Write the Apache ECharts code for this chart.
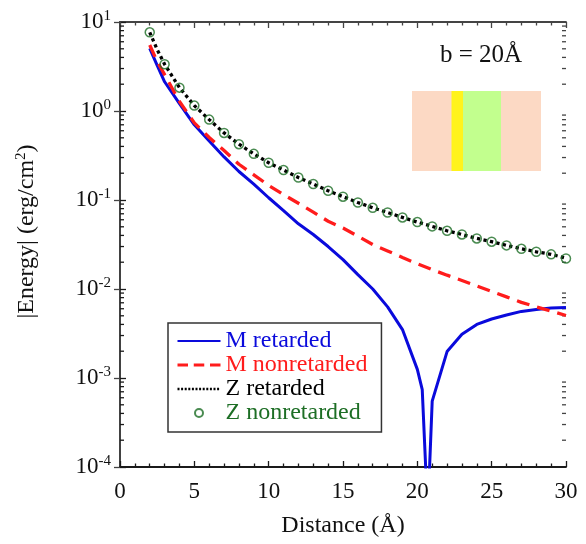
<!DOCTYPE html>
<html>
<head>
<meta charset="utf-8">
<script src="https://cdn.jsdelivr.net/npm/echarts@6/dist/echarts.min.js"></script>
<style>
html,body{margin:0;padding:0;background:#fff;}
#chart{width:586px;height:544px;}
</style>
</head>
<body>
<div id="chart"></div>
<script>
// ---- data ----
var zX = [2,3,4,5,6,7,8,9,10,11,12,13,14,15,16,17,18,19,20,21,22,23,24,25,26,27,28,29,30];
var zNonretarded = [7.66,3.35,1.83,1.15,0.80,0.567,0.424,0.33,0.262,0.217,0.179,0.151,0.127,0.109,0.0937,0.0817,0.0724,0.0637,0.0565,0.0505,0.0451,0.041,0.037,0.034,0.0309,0.0283,0.0262,0.0245,0.022];
var zRetX = [2,2.5,3,4,5,6,7,8,9,10,11,12,13,14,15,16,17,18,19,20,21,22,23,24,25,26,27,28,29,30];
var zRetarded = [7.66,4.9,3.35,1.83,1.15,0.80,0.567,0.424,0.33,0.262,0.217,0.179,0.151,0.127,0.109,0.0937,0.0817,0.0724,0.0637,0.0565,0.0505,0.0451,0.041,0.037,0.034,0.0309,0.0283,0.0262,0.0245,0.0222];
var mNonX = [2,2.5,3,4,5,6,7,8,9,10,11,12,13,14,15,16,17,18,19,20,21,22,23,24,25,26,27,28,29,30];
var mNonretarded = [5.52,3.6,2.56,1.28,0.736,0.504,0.36,0.252,0.192,0.146,0.115,0.092,0.0731,0.0577,0.0484,0.0393,0.0316,0.0268,0.0226,0.0192,0.0165,0.0143,0.01245,0.0108,0.00937,0.00815,0.00708,0.0063,0.00564,0.00504];
var mRetX = [2,2.5,3,4,5,6,7,8,9,10,11,12,13,14,15,16,17,18,19,20,20.33,20.7,21,22,23,24,25,26,27,28,29,30];
var mRetarded = [5.06,3.25,2.13,1.21,0.70,0.461,0.305,0.209,0.151,0.106,0.076,0.054,0.041,0.030,0.0214,0.0145,0.0100,0.0063,0.0035,0.00125,0.00074,0.00003,0.00055,0.00198,0.0031,0.0040,0.0046,0.0051,0.0056,0.0059,0.0061,0.0062];
var xTicks = [0,5,10,15,20,25,30];
var decades = [-4,-3,-2,-1,0];
var minorMult = [2,3,4,5,6,7,8,9];

var FONT = '"Liberation Serif","DejaVu Serif",serif';
function pairs(xs, ys){ return xs.map(function(x,i){ return [x, ys[i]]; }); }

// minor log tick values
var minorVals = [];
decades.forEach(function(d){ minorMult.forEach(function(m){ minorVals.push([0, m*Math.pow(10,d)]); }); });

var chart = echarts.init(document.getElementById('chart'), null, {renderer:'canvas'});

var axisLineDark = {show:true, lineStyle:{color:'#1a1a1a', width:1.8}};
var axisLineGray = {show:true, lineStyle:{color:'#444', width:1.8}};
var noSymbol = {color:'rgba(0,0,0,0)', borderWidth:0, borderColor:'rgba(0,0,0,0)'};

var option = {
  animation:false,
  backgroundColor:'#fff',
  grid:{left:120, right:20, top:22, bottom:77},
  xAxis:[{
    type:'value', min:0, max:30, interval:5, position:'bottom',
    axisLine:axisLineDark,
    axisTick:{show:true, inside:true, length:6, lineStyle:{color:'#1a1a1a', width:1.3}},
    minorTick:{show:true, splitNumber:5, length:3.5, lineStyle:{color:'#1a1a1a', width:1.3}},
    splitLine:{show:false},
    axisLabel:{show:true, margin:13, fontSize:23, color:'#111', fontFamily:FONT},
    name:'Distance (\u00C5)', nameLocation:'middle', nameGap:47,
    nameTextStyle:{fontSize:24, color:'#111', fontFamily:FONT}
  },{
    type:'value', min:0, max:30, interval:5, position:'top',
    axisLine:axisLineGray,
    axisTick:{show:true, inside:true, length:6, lineStyle:{color:'#444', width:1.3}},
    minorTick:{show:true, splitNumber:5, length:3.5, lineStyle:{color:'#444', width:1.3}},
    splitLine:{show:false}, axisLabel:{show:false}
  }],
  yAxis:[{
    type:'log', logBase:10, min:0.0001, max:10, splitNumber:5, position:'left',
    axisLine:axisLineDark,
    axisTick:{show:true, inside:true, length:6, lineStyle:{color:'#1a1a1a', width:1.3}},
    splitLine:{show:false},
    axisLabel:{
      show:true, margin:9, fontFamily:FONT, color:'#111',
      formatter:function(v){ var e = Math.round(Math.log10(v)); return '{b|10}{s|' + e + '}'; },
      rich:{
        b:{fontSize:23, fontFamily:FONT, color:'#111', lineHeight:26},
        s:{fontSize:15, fontFamily:FONT, color:'#111', verticalAlign:'top', lineHeight:26}
      }
    },
    name:'|Energy| (erg/cm{s|2})', nameLocation:'middle', nameGap:80, nameRotate:90,
    nameTextStyle:{fontSize:24, color:'#111', fontFamily:FONT, padding:[0,0,0,26],
      rich:{s:{fontSize:15, fontFamily:FONT, color:'#111', verticalAlign:'top', lineHeight:26}}}
  },{
    type:'log', logBase:10, min:0.0001, max:10, splitNumber:5, position:'right',
    axisLine:axisLineGray,
    axisTick:{show:true, inside:true, length:6, lineStyle:{color:'#444', width:1.3}},
    splitLine:{show:false}, axisLabel:{show:false}
  }],
  legend:{
    orient:'vertical', left:168, top:323,
    width:200,
    backgroundColor:'#fff',
    borderColor:'#333', borderWidth:1.5,
    padding:[6,14,7,8],
    itemWidth:43, itemHeight:8, itemGap:0,
    textStyle:{fontSize:24, fontFamily:FONT, lineHeight:23},
    data:[
      {name:'M retarded', textStyle:{color:'#0a0adc'}, itemStyle:noSymbol},
      {name:'M nonretarded', textStyle:{color:'#ff1c1c'}, itemStyle:noSymbol, lineStyle:{type:[10.5,5.75], width:3}},
      {name:'Z retarded', textStyle:{color:'#000'}, itemStyle:noSymbol, lineStyle:{type:[2,1.6], width:2.5}},
      {name:'Z nonretarded', textStyle:{color:'#1d6e25'}}
    ]
  },
  graphic:[
    {type:'rect', shape:{x:412, y:91, width:129, height:80}, style:{fill:'#fcd9c4'}, z:1},
    {type:'rect', shape:{x:451.5, y:91, width:11.5, height:80}, style:{fill:'#fff31c'}, z:2},
    {type:'rect', shape:{x:463, y:91, width:38, height:80}, style:{fill:'#c2ff8e'}, z:2},
    {type:'text', left:440, top:43, style:{text:'b = 20\u00C5', fontSize:25, fontFamily:FONT, fill:'#111'}, z:3}
  ],
  series:[
    {
      name:'minorTicksLeft', type:'custom', xAxisIndex:0, yAxisIndex:0, silent:true,
      data:minorVals, legendHoverLink:false,
      renderItem:function(params, api){
        var pL = api.coord([0, api.value(1)]);
        var pR = api.coord([30, api.value(1)]);
        return {type:'group', children:[
          {type:'line', shape:{x1:pL[0], y1:pL[1], x2:pL[0]+4, y2:pL[1]}, style:{stroke:'#1a1a1a', lineWidth:1.3}},
          {type:'line', shape:{x1:pR[0], y1:pR[1], x2:pR[0]-4, y2:pR[1]}, style:{stroke:'#444', lineWidth:1.3}}
        ]};
      },
      z:1
    },
    {
      name:'M retarded', type:'line', data:pairs(mRetX, mRetarded),
      showSymbol:false, symbol:'none', clip:true,
      lineStyle:{color:'#0a0adc', width:3},
      itemStyle:{color:'#0a0adc'}, z:3
    },
    {
      name:'M nonretarded', type:'line', data:pairs(mNonX, mNonretarded),
      showSymbol:false, symbol:'none', clip:true,
      lineStyle:{color:'#ff1c1c', width:3.3, type:[13,8]},
      itemStyle:{color:'#ff1c1c'}, z:4
    },
    {
      name:'Z retarded', type:'line', data:pairs(zRetX, zRetarded),
      showSymbol:false, symbol:'none', clip:true,
      lineStyle:{color:'#000', width:3.3, type:[3.3,3.3]},
      itemStyle:{color:'#000'}, z:5
    },
    {
      name:'Z nonretarded', type:'scatter', data:pairs(zX, zNonretarded),
      symbol:'circle', symbolSize:9,
      itemStyle:{color:'rgba(0,0,0,0)', borderColor:'#1d6e25', borderWidth:1.5}, z:6
    }
  ]
};
chart.setOption(option);
</script>
</body>
</html>
